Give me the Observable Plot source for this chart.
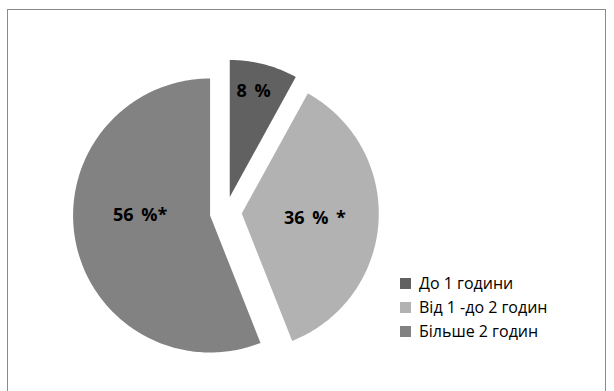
<!DOCTYPE html>
<html><head><meta charset="utf-8">
<script src="https://cdn.jsdelivr.net/npm/d3@7"></script>
<script src="https://cdn.jsdelivr.net/npm/@observablehq/plot@0.6"></script>
<style>
body{margin:0;background:#fff;}
#wrap{position:relative;width:614px;height:391px;overflow:hidden;font-family:"Open Sans",sans-serif;}
#frame{position:absolute;left:7px;top:9px;width:599px;height:420px;border:1.5px solid #8a8a8a;box-sizing:border-box;}
#chart{position:absolute;left:0;top:0;}
#chart svg text{word-spacing:3px;}
#legend{position:absolute;left:400px;top:271px;}
.row{display:flex;align-items:center;height:24px;font-size:16px;color:#000;white-space:nowrap;}
.sw{width:11px;height:11px;margin-right:8px;flex:none;}
</style></head><body>
<div id="wrap"><div id="frame"></div><div id="chart"></div><div id="legend"></div></div>
<script>
const categories = ["До 1 години", "Від 1 -до 2 годин", "Більше 2 годин"];
const values = [8, 36, 56];
const labels = ["8 %", "36 % *", "56 %*"];
const colors = ["#616161", "#b2b2b2", "#828282"];

// layout
const W = 614, H = 391, cx = 225.3, cy = 212, R = 137, explode = 16 / R;
const labelAt = [[12.7, 0.79], [94, 0.535], [270, 0.51]]; // [deg from slice tip, radius fraction]

const total = d3.sum(values);
const pts = [], labPts = [];
let cum = 0;
values.forEach((v, i) => {
  const a0 = cum / total * 2 * Math.PI, a1 = (cum + v) / total * 2 * Math.PI;
  cum += v;
  const mid = (a0 + a1) / 2;
  const ox = explode * Math.sin(mid), oy = explode * Math.cos(mid);
  const key = categories[i];
  pts.push({key, x: ox, y: oy});
  const n = Math.max(2, Math.ceil((a1 - a0) * 180 / Math.PI));
  for (let k = 0; k <= n; k++) {
    const a = a0 + (a1 - a0) * k / n;
    pts.push({key, x: ox + Math.sin(a), y: oy + Math.cos(a)});
  }
  pts.push({key, x: ox, y: oy});
  const la = labelAt[i][0] * Math.PI / 180, lr = labelAt[i][1];
  labPts.push({text: labels[i], x: ox + lr * Math.sin(la), y: oy + lr * Math.cos(la)});
});

const chart = Plot.plot({
  width: W, height: H, margin: 0,
  style: {fontFamily: "'Open Sans', sans-serif", background: "transparent"},
  x: {domain: [-cx / R, (W - cx) / R], axis: null},
  y: {domain: [-(H - cy) / R, cy / R], axis: null},
  color: {domain: categories, range: colors},
  marks: [
    Plot.line(pts, {x: "x", y: "y", z: "key", fill: "key", stroke: "none", curve: "linear"}),
    Plot.text(labPts, {x: "x", y: "y", text: "text", fontSize: 18, fontWeight: "bold", fill: "#000"})
  ]
});
document.getElementById("chart").appendChild(chart);

const leg = document.getElementById("legend");
categories.forEach((c, i) => {
  const row = document.createElement("div");
  row.className = "row";
  const sw = document.createElement("span");
  sw.className = "sw";
  sw.style.background = colors[i];
  const t = document.createElement("span");
  t.textContent = c;
  row.appendChild(sw); row.appendChild(t);
  leg.appendChild(row);
});
</script>
</body></html>
